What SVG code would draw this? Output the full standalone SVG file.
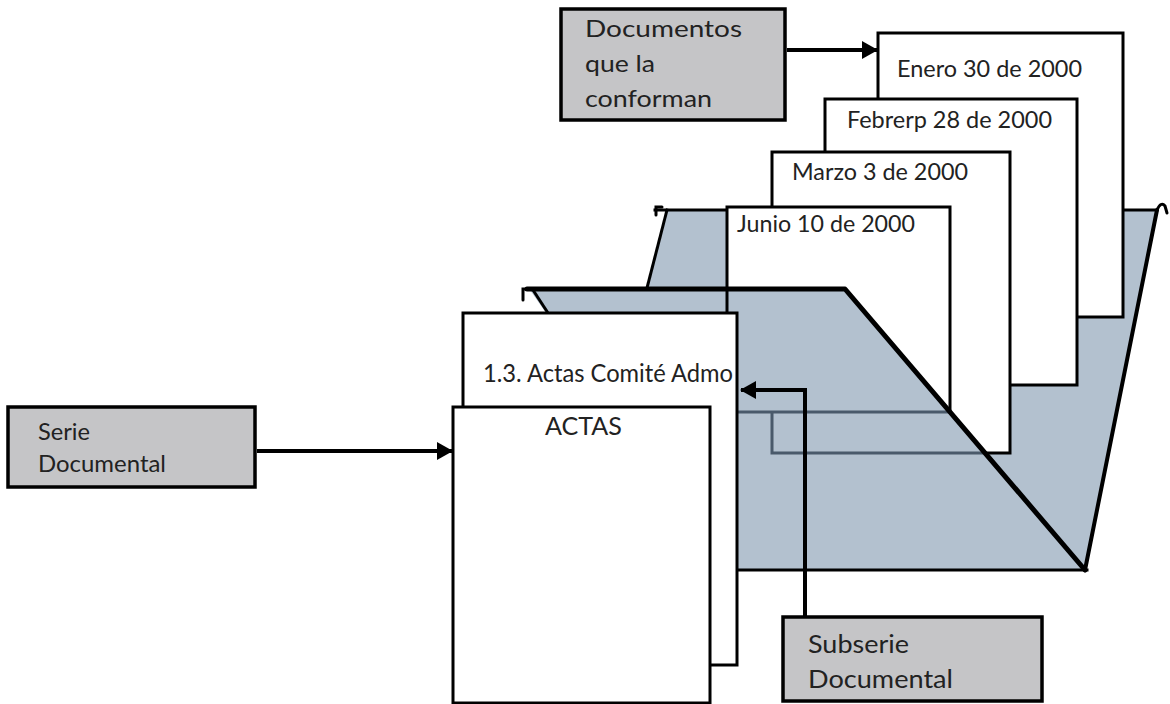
<svg xmlns="http://www.w3.org/2000/svg" width="1170" height="704" viewBox="0 0 1170 704">
<style>
.bg{fill:#ffffff}
.folder{fill:#b3c1cf;stroke:none}
.edge{fill:none;stroke:#000;stroke-width:3;stroke-linecap:square}
.thick{fill:none;stroke:#000;stroke-width:5;stroke-linecap:round;stroke-linejoin:round}
.hidden{fill:none;stroke:#4a5a6b;stroke-width:3}
.paper{fill:#ffffff;stroke:#000;stroke-width:3}
.label{fill:#c5c5c7;stroke:#000;stroke-width:3.5}
.t{font-family:Lato,"Liberation Sans",sans-serif;fill:#222;font-size:23px}
.big{font-size:25px}
.conn{fill:none;stroke:#000;stroke-width:4}
</style>
<defs>
<marker id="arr" markerUnits="userSpaceOnUse" markerWidth="16" markerHeight="18" refX="15" refY="9" orient="auto">
<path d="M0,0 L16,9 L0,18 z" fill="#000"/>
</marker>
</defs>
<rect class="bg" x="0" y="0" width="1170" height="704"/>

<g id="back-folder">
<polygon class="folder" points="667,210 1157,210 1085,570 720,570 647,288"/>
<path class="edge" d="M655,210 H1157"/>
<path class="edge" d="M667,210 L647,288"/>
<path class="thick" style="stroke-width:4" d="M1157,210 L1085,570"/>
<path class="edge" style="stroke-linecap:round" d="M656,215 V207 H662"/>
<path class="edge" style="stroke-linecap:round" d="M1157,210 Q1161,201 1165,206 L1167,213"/>
</g>

<g id="doc-enero">
<rect class="paper" x="878" y="33" width="245" height="284"/>
<text class="t" x="897" y="77" textLength="185" lengthAdjust="spacingAndGlyphs">Enero 30 de 2000</text>
</g>
<g id="doc-febrero">
<rect class="paper" x="825" y="99" width="252" height="286"/>
<text class="t" x="847" y="128" textLength="205" lengthAdjust="spacingAndGlyphs">Febrerp 28 de 2000</text>
</g>
<g id="doc-marzo">
<rect class="paper" x="772" y="152" width="238" height="301"/>
<text class="t" x="792" y="180" textLength="176" lengthAdjust="spacingAndGlyphs">Marzo 3 de 2000</text>
</g>
<g id="doc-junio">
<rect class="paper" x="727" y="207" width="223" height="205"/>
<text class="t" x="737" y="232" textLength="178" lengthAdjust="spacingAndGlyphs">Junio 10 de 2000</text>
</g>

<g id="front-folder">
<polygon class="folder" points="530,290 845,290 1085,570 726,570"/>
<path class="hidden" d="M737,412 H949"/>
<path class="hidden" d="M772,412 V453 H983"/>
<path class="edge" d="M727,290 V313"/>
<path class="edge" d="M737,570 H1087"/>
<path class="edge" d="M533,290 L548,313"/>
<path class="thick" d="M527,289 H845 L1085,570"/>
<path class="edge" style="stroke-linecap:round" d="M523,300 V289 H528"/>
</g>

<g id="subserie-folder">
<rect class="paper" x="463" y="313" width="274" height="352"/>
<text class="t big" x="483" y="382" textLength="250" lengthAdjust="spacingAndGlyphs">1.3. Actas Comité Admo</text>
</g>

<g id="serie-folder">
<rect class="paper" x="453" y="407" width="257" height="296"/>
<text class="t big" x="545" y="435" textLength="77" lengthAdjust="spacingAndGlyphs">ACTAS</text>
</g>

<g id="label-documentos">
<rect class="label" x="561" y="9" width="224" height="111"/>
<text class="t" x="585" y="37" textLength="157" lengthAdjust="spacingAndGlyphs">Documentos</text>
<text class="t" x="585" y="72" textLength="70" lengthAdjust="spacingAndGlyphs">que la</text>
<text class="t" x="585" y="107" textLength="127" lengthAdjust="spacingAndGlyphs">conforman</text>
</g>

<g id="label-serie">
<rect class="label" x="8" y="407" width="247" height="80"/>
<text class="t" x="38" y="440" textLength="52" lengthAdjust="spacingAndGlyphs">Serie</text>
<text class="t" x="38" y="472" textLength="128" lengthAdjust="spacingAndGlyphs">Documental</text>
</g>

<g id="label-subserie">
<rect class="label" x="783" y="617" width="259" height="84"/>
<text class="t big" x="808" y="653" textLength="101" lengthAdjust="spacingAndGlyphs">Subserie</text>
<text class="t big" x="808" y="688" textLength="145" lengthAdjust="spacingAndGlyphs">Documental</text>
</g>

<g id="connectors">
<path class="conn" d="M787,50 H877" marker-end="url(#arr)"/>
<path class="conn" d="M257,451 H452" marker-end="url(#arr)"/>
<path class="conn" d="M805,617 V390 H741" marker-end="url(#arr)"/>
</g>
</svg>
